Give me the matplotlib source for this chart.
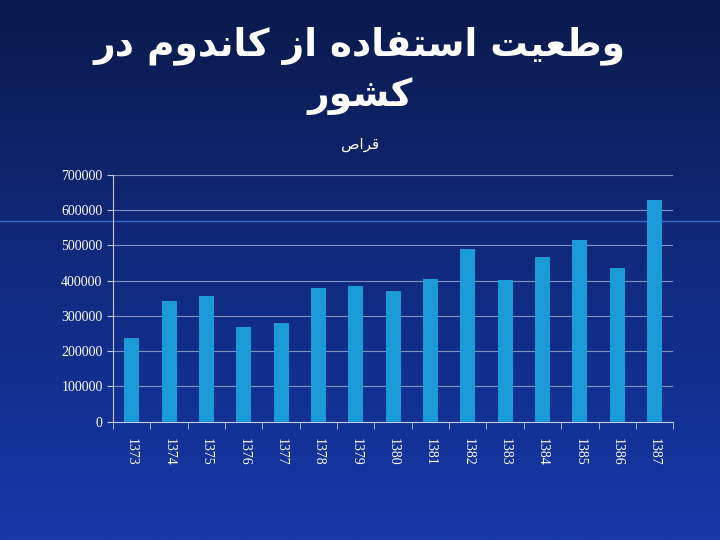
import matplotlib
matplotlib.use('Agg')
import matplotlib.pyplot as plt
import numpy as np

years = ['1373', '1374', '1375', '1376', '1377', '1378', '1379', '1380',
         '1381', '1382', '1383', '1384', '1385', '1386', '1387']
values = [237000, 343000, 358000, 268000, 280000, 378000, 385000, 370000,
          405000, 490000, 403000, 468000, 516000, 437000, 628000]
title = 'وضعیت استفاده از کاندوم در کشور'
subtitle = 'قراص'

# minimal arabic shaping: (isolated, final, initial, medial)
forms = {
    'ا': (0xFE8D, 0xFE8E), 'د': (0xFEA9, 0xFEAA), 'ر': (0xFEAD, 0xFEAE),
    'ز': (0xFEAF, 0xFEB0), 'و': (0xFEED, 0xFEEE),
    'ه': (0xFEE9, 0xFEEA, 0xFEEB, 0xFEEC), 'ض': (0xFEC1, 0xFEC2, 0xFEC3, 0xFEC4),
    'ع': (0xFEC9, 0xFECA, 0xFECB, 0xFECC), 'ی': (0xFBFC, 0xFBFD, 0xFBFE, 0xFBFF),
    'ت': (0xFE95, 0xFE96, 0xFE97, 0xFE98), 'س': (0xFEB1, 0xFEB2, 0xFEB3, 0xFEB4),
    'ف': (0xFED1, 0xFED2, 0xFED3, 0xFED4), 'ک': (0xFB8E, 0xFB8F, 0xFB90, 0xFB91),
    'ن': (0xFEE5, 0xFEE6, 0xFEE7, 0xFEE8), 'م': (0xFEE1, 0xFEE2, 0xFEE3, 0xFEE4),
    'ش': (0xFEB5, 0xFEB6, 0xFEB7, 0xFEB8), 'ق': (0xFED5, 0xFED6, 0xFED7, 0xFED8),
    'ص': (0xFEB9, 0xFEBA, 0xFEBB, 0xFEBC),
}

def shape(s):
    out = []
    for i, c in enumerate(s):
        if c not in forms:
            out.append(c)
            continue
        prev = s[i-1] if i > 0 else ' '
        nxt = s[i+1] if i < len(s)-1 else ' '
        join_prev = prev in forms and len(forms[prev]) == 4
        join_next = nxt in forms and len(forms[c]) == 4
        f = forms[c]
        if join_prev and join_next:
            out.append(chr(f[3]))
        elif join_prev:
            out.append(chr(f[1]))
        elif join_next:
            out.append(chr(f[2]))
        else:
            out.append(chr(f[0]))
    return ''.join(out)[::-1]

fig = plt.figure(figsize=(7.2, 5.4), dpi=100)

# slide background gradient
bg = fig.add_axes([0, 0, 1, 1])
grad = np.linspace(0, 1, 256).reshape(-1, 1)
cmap = matplotlib.colors.LinearSegmentedColormap.from_list('bg', ['#0b1a4c', '#102a7e', '#1638a8'])
bg.imshow(grad, aspect='auto', cmap=cmap, extent=[0, 1, 0, 1], origin='upper')
bg.axhline(1 - 221/540, color='#3a6ad0', lw=1)
bg.set_xlim(0, 1); bg.set_ylim(0, 1)
bg.axis('off')

fig.text(0.5, 0.915, shape('وضعیت استفاده از کاندوم در'), ha='center', va='center',
         fontsize=27, fontweight='bold', color='white', family='DejaVu Sans')
fig.text(0.5, 0.822, shape('کشور'), ha='center', va='center',
         fontsize=27, fontweight='bold', color='white', family='DejaVu Sans')
fig.text(0.5, 0.733, shape(subtitle), ha='center', va='center',
         fontsize=11, color='white', family='DejaVu Sans')

ax = fig.add_axes([0.157, 0.219, 0.778, 0.457])
ax.set_facecolor('none')
x = np.arange(len(years))
ax.bar(x, values, width=0.4, color='#1a9ad6', zorder=3)
ax.set_xlim(-0.5, len(years) - 0.5)
ax.set_ylim(0, 700000)
ax.set_yticks(np.arange(0, 700001, 100000))
ax.set_yticklabels([str(v) for v in range(0, 700001, 100000)],
                   color='white', family='Liberation Serif', fontsize=10)
ax.set_xticks(x)
ax.set_xticklabels(years, rotation=-90, color='white', family='Liberation Serif', fontsize=10)
ax.set_xticks(np.arange(-0.5, len(years)), minor=True)
ax.tick_params(axis='x', which='major', length=0, pad=12)
ax.tick_params(axis='x', which='minor', length=5, color='#c0c8e0')
ax.tick_params(axis='y', length=4, color='#c0c8e0')
ax.grid(axis='y', color='#8090c0', lw=0.8, zorder=0)
for s in ['top', 'right']:
    ax.spines[s].set_visible(False)
ax.spines['left'].set_color('#c0c8e0')
ax.spines['bottom'].set_color('#c0c8e0')

fig.savefig('out.png', dpi=100)
